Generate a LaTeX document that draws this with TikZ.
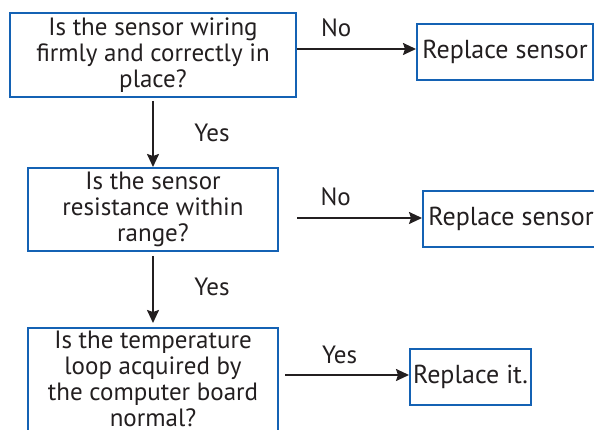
\documentclass[tikz,border=0pt]{standalone}
\usepackage{fontspec}
\setmainfont{PT Sans}
\usetikzlibrary{arrows.meta, positioning}
\definecolor{boxblue}{RGB}{20,98,180}
\definecolor{ink}{RGB}{35,31,32}

\begin{document}
\begin{tikzpicture}[
    node distance=69pt,
    box/.style={draw=boxblue, line width=2pt, fill=white, align=center, inner sep=3pt, text=ink, font=\fontsize{25}{26}\selectfont},
    rbox/.style={box, minimum height=56pt, font=\fontsize{26}{26}\selectfont},
    arrow/.style={-{Stealth[length=13pt, width=12pt, inset=2pt]}, line width=1.8pt, draw=ink},
    lbl/.style={font=\fontsize{25}{26}\selectfont, text=ink}
]
\useasboundingbox (0,0) rectangle (594pt,430pt);

\node[box, minimum width=286pt, minimum height=84pt] (wiring) at (153pt,375pt) {Is the sensor wiring\\firmly and correctly in\\place?};
\node[box, below=of wiring, minimum width=250pt, minimum height=83pt] (resist) {Is the sensor\\resistance within\\range?};
% runs on below the page edge
\node[box, below=75pt of resist, minimum width=250pt, text depth=105pt] (loop) {Is the temperature\\loop acquired by\\the computer board\\normal?};

\node[rbox, right=119pt of wiring, yshift=3pt, minimum width=176pt] (replA) {Replace sensor};
\node[rbox, right=143pt of resist, yshift=-9.5pt, minimum width=176pt] (replB) {Replace sensor};
\node[rbox, right=130pt of loop.north east, yshift=-50pt, minimum width=119pt] (replC) {Replace it.};

\draw[arrow] ([yshift=6pt]wiring.east) -- ([yshift=3pt]replA.west) node[pos=0.33, yshift=21pt, lbl] {No};
\draw[arrow] ([shift={(18pt,-8.5pt)}]resist.east) -- ([yshift=1pt]replB.west) node[pos=0.31, yshift=21pt, lbl] {No};
\draw[arrow] ([shift={(6pt,-48pt)}]loop.north east) -- ([yshift=2pt]replC.west) node[pos=0.44, yshift=20pt, lbl] {Yes};

\draw[arrow, shorten <=3pt] (wiring) -- (resist) node[midway, xshift=59pt, lbl] {Yes};
\draw[arrow, shorten <=4pt, shorten >=4pt] (resist) -- (loop) node[midway, xshift=59pt, yshift=3pt, lbl] {Yes};
\end{tikzpicture}
\end{document}
